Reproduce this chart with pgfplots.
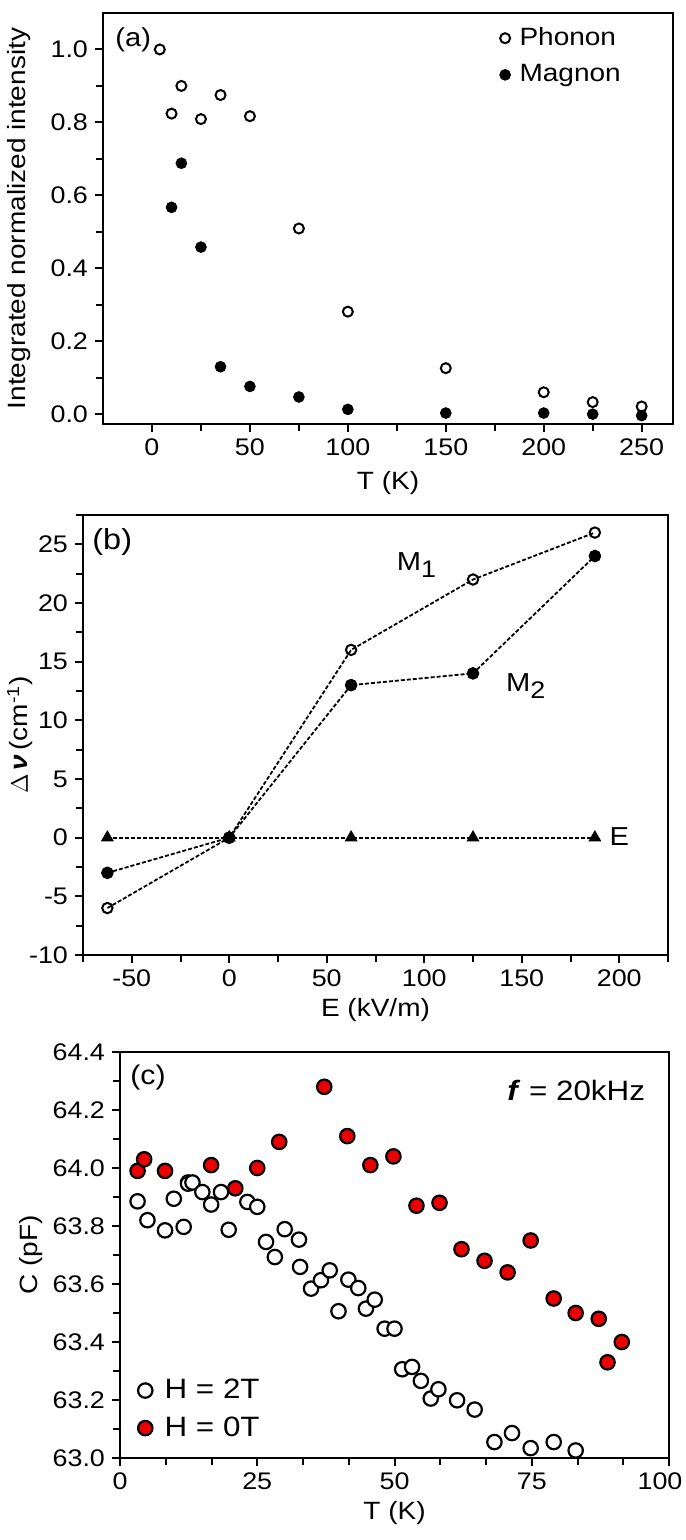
\documentclass[border=0pt]{standalone}
\usepackage{fontspec}
\setmainfont{Liberation Sans}[FakeStretch=1.12]
\usepackage{pgfplots}
\pgfplotsset{compat=1.18}
\definecolor{myred}{RGB}{235,0,0}
\pgfplotsset{
  myax/.style={
    scale only axis, anchor=south west,
    axis line style={line width=1.3pt},
    every tick/.style={line width=1pt, black},
    tick align=outside, xtick pos=bottom, ytick pos=left,
    major tick length=4pt, minor tick length=3.5pt,
    /pgf/number format/assume math mode=true,
    tick label style={font=\fontsize{12}{14}\selectfont},
    label style={font=\fontsize{12.5}{15}\selectfont},
  },
}
\begin{document}
\begin{tikzpicture}
\path[use as bounding box] (0pt,0pt) rectangle (342.5pt,770pt);

% ---------------- (a)
\begin{axis}[myax, at={(51.5pt,558pt)}, width=285pt, height=205.5pt,
  xmin=-25, xmax=266, ymin=-0.027, ymax=1.1,
  xtick={0,50,100,150,200,250}, minor xtick={25,75,125,175,225},
  ytick={0,0.2,0.4,0.6,0.8,1.0}, minor ytick={0.1,0.3,0.5,0.7,0.9},
  yticklabel style={/pgf/number format/.cd, fixed, fixed zerofill, precision=1},
  xlabel={T (K)}, ylabel={Integrated normalized intensity},
  xlabel style={at={(axis description cs:0.5,-0.1436)}, anchor=center},
  ylabel style={at={(axis description cs:-0.147,0.5)}, anchor=center},
  legend style={draw=none, fill=none, at={(0.916,0.975)}, anchor=north east,
    font=\fontsize{12.5}{15}\selectfont, row sep=4pt, inner sep=0pt},
  legend cell align=left,
  legend image code/.code={\path (-3pt,0pt) (5pt,0pt); \draw[mark repeat=2,mark phase=2] plot coordinates {(-1pt,0pt)(0pt,0pt)(1pt,0pt)};},
  clip=false,
]
\addplot[only marks, mark=o, mark size=2.5pt, mark options={line width=1pt, fill=white}] coordinates {
(4,1.0) (10,0.824) (15,0.9) (25,0.809) (35,0.875) (50,0.817) (75,0.509) (100,0.281) (150,0.126) (200,0.060) (225,0.033) (250,0.021)};
\addlegendentry{Phonon}
\addplot[only marks, mark=*, mark size=2.7pt, mark options={black}] coordinates {
(10,0.567) (15,0.688) (25,0.458) (35,0.130) (50,0.076) (75,0.047) (100,0.013) (150,0.003) (200,0.003) (225,0.0) (250,-0.004)};
\addlegendentry{Magnon}
\node[anchor=north west, inner sep=0pt, font=\fontsize{13}{15}\selectfont] at (rel axis cs:0,1) [xshift=6pt, yshift=-7pt] {(a)};
\end{axis}

% ---------------- (b)
\begin{axis}[myax, at={(41.5pt,292.5pt)}, width=292.5pt, height=220pt,
  xmin=-75, xmax=225, ymin=-10, ymax=27.5,
  xtick={-50,0,50,100,150,200}, minor xtick={-75,-25,25,75,125,175,225},
  ytick={-10,-5,0,5,10,15,20,25}, minor ytick={-7.5,-2.5,2.5,7.5,12.5,17.5,22.5,27.5},
  xlabel={E (kV/m)}, ylabel={$\Delta$\,\textbf{\textit{ν}}\,(cm\textsuperscript{-1})},
  xlabel style={at={(axis description cs:0.5,-0.125)}, anchor=center},
  ylabel style={at={(axis description cs:-0.1077,0.5)}, anchor=center},
  clip=false,
]
\addplot[black, line width=0.9pt, dash pattern=on 2pt off 1pt, mark=triangle*, mark size=2.9pt, mark options={solid, black}] coordinates {
(-62.5,0) (0,0) (62.5,0) (125,0) (187.5,0)};
\addplot[black, line width=0.9pt, dash pattern=on 2pt off 1pt, mark=o, mark size=2.6pt, mark options={solid, fill=white, line width=1pt}] coordinates {
(-62.5,-6) (0,0) (62.5,16) (125,22) (187.5,26)};
\addplot[black, line width=0.9pt, dash pattern=on 2pt off 1pt, mark=*, mark size=2.7pt, mark options={solid, black}] coordinates {
(-62.5,-3) (0,0) (62.5,13) (125,14) (187.5,24)};
\node[font=\fontsize{13}{15}\selectfont] at (axis cs:96,23.2) {M\raisebox{-0.5ex}{\fontsize{12}{14}\selectfont 1}};
\node[font=\fontsize{13}{15}\selectfont] at (axis cs:152,12.9) {M\raisebox{-0.5ex}{\fontsize{12}{14}\selectfont 2}};
\node[font=\fontsize{13}{15}\selectfont] at (axis cs:200,0.1) {E};
\node[anchor=north west, inner sep=0pt, font=\fontsize{14.5}{17}\selectfont] at (rel axis cs:0,1) [xshift=4.5pt, yshift=-6.5pt] {(b)};
\end{axis}

% ---------------- (c)
\begin{axis}[myax, at={(60pt,41pt)}, width=274.5pt, height=203pt,
  xmin=0, xmax=100, ymin=63, ymax=64.4,
  xtick={0,25,50,75,100}, xticklabels={0,25,50,75,\hspace*{-9pt}100},
  minor xtick={8.333,16.667,33.333,41.667,58.333,66.667,83.333,91.667},
  ytick={63.0,63.2,63.4,63.6,63.8,64.0,64.2,64.4}, minor ytick={63.1,63.3,63.5,63.7,63.9,64.1,64.3},
  yticklabel style={/pgf/number format/.cd, fixed, fixed zerofill, precision=1},
  xlabel={T (K)}, ylabel={C (pF)},
  xlabel style={at={(axis description cs:0.5,-0.1355)}, anchor=center},
  ylabel style={at={(axis description cs:-0.162,0.5)}, anchor=center},
  legend style={draw=none, fill=none, at={(0.03,0.035)}, anchor=south west,
    font=\fontsize{14}{16}\selectfont, row sep=3.5pt, inner sep=0pt},
  legend cell align=left,
  legend image code/.code={\path (-4pt,0pt) (7.5pt,0pt); \draw[mark repeat=2,mark phase=2] plot coordinates {(-1pt,0pt)(0pt,0pt)(1pt,0pt)};},
  clip=false,
]
\addplot[only marks, mark=*, mark size=3.6pt, mark options={draw=black, fill=myred, line width=1.1pt}, forget plot] coordinates {(12.4,63.95)};
\addplot[only marks, mark=*, mark size=3.6pt, mark options={draw=black, fill=white, line width=1.1pt}] coordinates {
(3.2,63.885) (5,63.82) (8.2,63.785) (9.8,63.894) (11.6,63.797) (12.4,63.946) (13.2,63.95) (15,63.917) (16.6,63.874) (18.4,63.917)
(19.8,63.787) (23.2,63.883) (25,63.866) (26.6,63.745) (28.2,63.693) (30,63.789) (32.6,63.753) (32.8,63.659) (34.8,63.584) (36.6,63.613)
(38.2,63.647) (39.8,63.506) (41.6,63.615) (43.4,63.586) (44.8,63.515) (46.4,63.546) (48.2,63.446) (50,63.446) (51.4,63.306) (53.2,63.314)
(54.8,63.266) (56.6,63.205) (58,63.237) (61.4,63.199) (64.6,63.167) (68.2,63.055) (71.4,63.086) (74.8,63.034) (79,63.055) (83,63.026)};
\addlegendentry{H = 2T}
\addplot[only marks, mark=*, mark size=3.6pt, mark options={draw=black, fill=myred, line width=1.1pt}] coordinates {
(3.2,63.99) (4.4,64.03) (8.2,63.99) (16.6,64.01) (21,63.93) (25,64.0) (29,64.09) (37.2,64.28) (41.4,64.11) (45.6,64.01)
(49.8,64.04) (54,63.87) (58.2,63.88) (62.2,63.72) (66.4,63.68) (70.6,63.64) (74.8,63.75) (79,63.55) (83,63.5) (87.2,63.48)
(91.4,63.4) (88.8,63.33)};
\addlegendentry{H = 0T}
\node[anchor=north west, inner sep=0pt, font=\fontsize{13.5}{16}\selectfont] at (rel axis cs:0,1) [xshift=5pt, yshift=-6.5pt] {(c)};
\node[anchor=east, inner sep=0pt, font=\fontsize{14}{16}\selectfont] at (rel axis cs:0.957,0.906) {\textbf{\textit{f}} = 20kHz};
\end{axis}
\end{tikzpicture}
\end{document}
